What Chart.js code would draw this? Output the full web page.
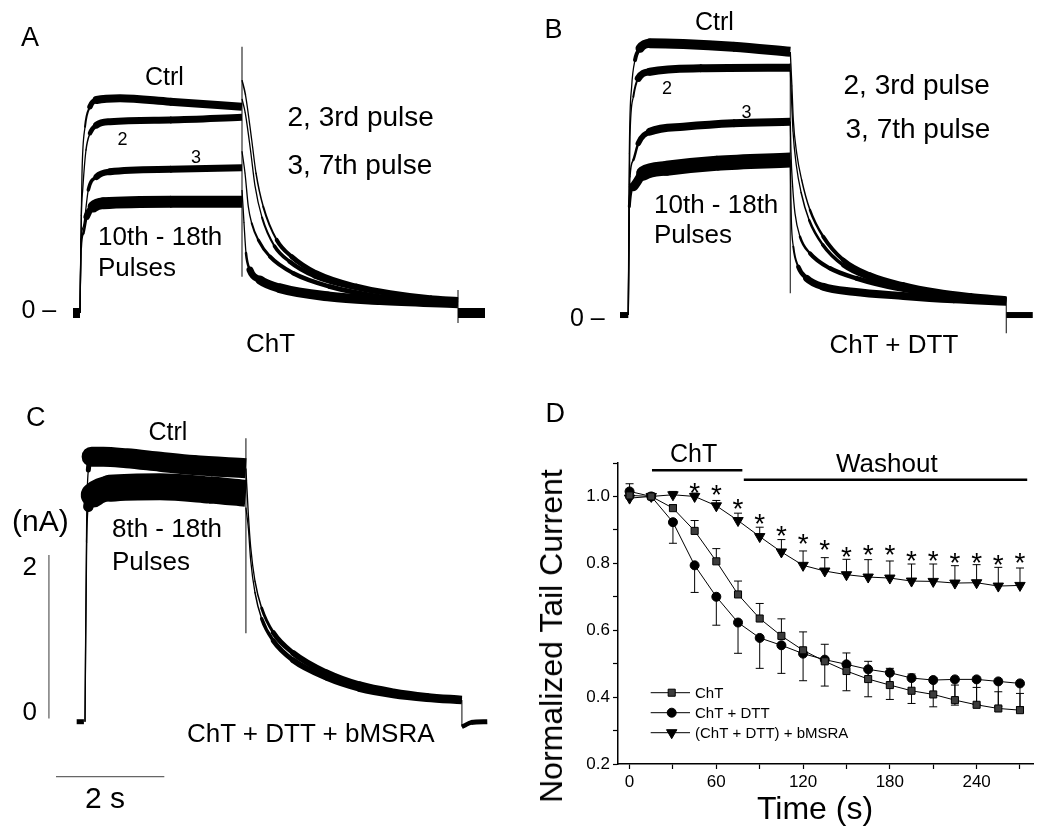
<!DOCTYPE html>
<html><head><meta charset="utf-8">
<script src="https://cdn.jsdelivr.net/npm/chart.js@4.4.1/dist/chart.umd.min.js"></script>
<style>
html,body{margin:0;padding:0;background:#fff;}
#wrap{position:relative;width:1050px;height:840px;overflow:hidden;background:#fff;font-family:"Liberation Sans",Arial,sans-serif;}
canvas{position:absolute;}
.t{position:absolute;white-space:nowrap;line-height:1;color:#000;font-family:"Liberation Sans",Arial,sans-serif;}
</style></head><body>
<div id="wrap">
<canvas id="cA" width="520" height="400" style="left:0;top:0"></canvas>
<canvas id="cB" width="530" height="400" style="left:520px;top:0"></canvas>
<canvas id="cC" width="520" height="440" style="left:0;top:400px"></canvas>
<canvas id="cD" width="530" height="400" style="left:520px;top:440px"></canvas>

<div class="t" style="left:21px;top:23.8px;font-size:27px">A</div>
<div class="t" style="left:145px;top:63.8px;font-size:25px">Ctrl</div>
<div class="t" style="left:117.5px;top:129.8px;font-size:18px">2</div>
<div class="t" style="left:191px;top:148.1px;font-size:18px">3</div>
<div class="t" style="left:287.5px;top:103.3px;font-size:28px">2, 3rd pulse</div>
<div class="t" style="left:287.5px;top:151.3px;font-size:28px">3, 7th pulse</div>
<div class="t" style="left:98px;top:223px;font-size:26px">10th - 18th</div>
<div class="t" style="left:98px;top:254px;font-size:26px">Pulses</div>
<div class="t" style="left:21.5px;top:296.8px;font-size:25px">0 –</div>
<div class="t" style="left:246px;top:329.7px;font-size:26px">ChT</div>

<div class="t" style="left:544.5px;top:16.1px;font-size:27px">B</div>
<div class="t" style="left:695px;top:9.2px;font-size:25px">Ctrl</div>
<div class="t" style="left:662px;top:79.4px;font-size:18px">2</div>
<div class="t" style="left:741.5px;top:103px;font-size:18px">3</div>
<div class="t" style="left:843.5px;top:70.8px;font-size:28px">2, 3rd pulse</div>
<div class="t" style="left:845.5px;top:115.3px;font-size:28px">3, 7th pulse</div>
<div class="t" style="left:654px;top:190.8px;font-size:26px">10th - 18th</div>
<div class="t" style="left:654px;top:221px;font-size:26px">Pulses</div>
<div class="t" style="left:570px;top:304.8px;font-size:25px">0 –</div>
<div class="t" style="left:829.5px;top:331px;font-size:26px">ChT + DTT</div>

<div class="t" style="left:26px;top:403.8px;font-size:27px">C</div>
<div class="t" style="left:148.5px;top:418.8px;font-size:25px">Ctrl</div>
<div class="t" style="left:12px;top:506.3px;font-size:30px">(nA)</div>
<div class="t" style="left:112px;top:514.7px;font-size:26px">8th - 18th</div>
<div class="t" style="left:112px;top:548px;font-size:26px">Pulses</div>
<div class="t" style="left:22.5px;top:553px;font-size:26px">2</div>
<div class="t" style="left:22.5px;top:698px;font-size:26px">0</div>
<div class="t" style="left:187px;top:719.7px;font-size:26px">ChT + DTT + bMSRA</div>
<div class="t" style="left:85px;top:782.9px;font-size:30px">2 s</div>

<div class="t" style="left:545.5px;top:400.4px;font-size:27px">D</div>
<div class="t" style="left:670px;top:440.8px;font-size:25px">ChT</div>
<div class="t" style="left:836px;top:449.7px;font-size:26px">Washout</div>
<div class="t" style="left:551px;top:636px;font-size:32px;transform:translate(-50%,-50%) rotate(-90deg)">Normalized Tail Current</div>
<div class="t" style="left:815px;top:792px;font-size:32px;transform:translateX(-50%)">Time (s)</div>
</div>

<script>
// ---------------- Panel D data (normalized tail current) ----------------
const times = [0,15,30,45,60,75,90,105,120,135,150,165,180,195,210,225,240,255,270];
const chtMean = [1.003,1.0,0.965,0.897,0.806,0.707,0.635,0.583,0.54,0.507,0.478,0.454,0.436,0.419,0.408,0.391,0.377,0.366,0.361];
const chtErr  = [0.035,0.005,0.01,0.031,0.038,0.04,0.045,0.051,0.055,0.051,0.054,0.053,0.05,0.05,0.05,0.045,0.052,0.05,0.05];
const dttMean = [1.015,1.0,0.923,0.794,0.70,0.623,0.577,0.555,0.53,0.512,0.498,0.483,0.473,0.457,0.451,0.453,0.453,0.447,0.441];
const dttErr  = [0.01,0.005,0.063,0.081,0.085,0.092,0.091,0.084,0.081,0.079,0.079,0.082,0.08,0.076,0.08,0.077,0.075,0.075,0.07];
const msraMean = [0.995,1.0,1.005,1.0,0.972,0.928,0.88,0.834,0.794,0.777,0.766,0.759,0.756,0.747,0.746,0.741,0.742,0.732,0.734];
const msraErr  = [0.01,0.005,0.01,0.01,0.016,0.022,0.028,0.037,0.043,0.04,0.046,0.052,0.051,0.051,0.052,0.052,0.054,0.056,0.052];
const starTimes  = [45,60,75,90,105,120,135,150,165,180,195,210,225,240,255,270];
const starLevels = [1.030,1.023,0.983,0.938,0.901,0.877,0.859,0.839,0.844,0.844,0.826,0.826,0.819,0.819,0.813,0.819];
const chtBarT = [15.5, 78];   const chtBarLevel = 1.078;
const washBarT = [79, 275];   const washBarLevel = 1.05;
const xTickValues = [0,30,60,90,120,150,180,210,240,270];
const xLabelValues = [0,60,120,180,240];
const yTickValues = [0.2,0.3,0.4,0.5,0.6,0.7,0.8,0.9,1.0,1.1];
const yLabelValues = [0.2,0.4,0.6,0.8,1.0];
const legendLabels = ['ChT','ChT + DTT','(ChT + DTT) + bMSRA'];

// ---------------- Panel A traces (time s, current nA) ----------------
const aPreT = [-0.13, 0], aPreI = [0, 0];
const aPostT = [7.0, 7.5], aPostI = [0, 0];
const aCtrlPulseT = [0, 0.025, 0.037, 0.093, 0.185, 0.309, 0.741, 1.667, 3.0];
const aCtrlPulseI = [0, 1.2, 1.71, 2.28, 2.525, 2.607, 2.628, 2.586, 2.525];
const aCtrlTailT = [3.0, 3.065, 3.18, 3.26, 3.394, 3.643, 3.92, 4.383, 5.124, 5.741, 6.481, 7.0];
const aCtrlTailI = [2.85, 2.668, 2.117, 1.71, 1.301, 0.894, 0.689, 0.486, 0.322, 0.241, 0.18, 0.159];
const a2PulseT = [0, 0.025, 0.05, 0.111, 0.185, 0.309, 0.556, 1.667, 3.0];
const a2PulseI = [0, 1.2, 1.506, 1.995, 2.2, 2.301, 2.342, 2.362, 2.395];
const a2TailT = [3.0, 3.06, 3.16, 3.24, 3.37, 3.6, 3.88, 4.35, 5.1, 5.74, 6.48, 7.0];
const a2TailI = [2.62, 2.45, 1.98, 1.56, 1.17, 0.82, 0.63, 0.45, 0.31, 0.235, 0.177, 0.157];
const a3PulseT = [0, 0.02, 0.062, 0.154, 0.309, 0.556, 1.667, 3.0];
const a3PulseI = [0, 0.9, 1.056, 1.506, 1.668, 1.729, 1.759, 1.778];
const a3TailT = [3.0, 3.056, 3.117, 3.18, 3.302, 3.519, 3.95, 4.63, 5.556, 6.481, 7.0];
const a3TailI = [1.98, 1.71, 1.301, 1.098, 0.894, 0.689, 0.486, 0.322, 0.2, 0.138, 0.119];
const aBandPulseT = [0, 0.02, 0.062, 0.124, 0.247, 0.432, 1.667, 3.0];
const aBandPulseI = [0, 0.8, 0.976, 1.179, 1.301, 1.343, 1.362, 1.362];
const aBandTailT = [3.0, 3.037, 3.074, 3.148, 3.333, 3.704, 4.63, 5.556, 7.0];
const aBandTailI = [1.506, 1.102, 0.734, 0.526, 0.404, 0.302, 0.2, 0.159, 0.119];
const aSpikeT = [3.0, 3.0], aSpikeI = [3.26, 0.444];
const aEndT = [7.0, 7.0], aEndI = [0.28, -0.122];

// ---------------- Panel B traces ----------------
const bPreT = [-0.154, 0], bPreI = [0, 0];
const bPostT = [7.0, 7.49], bPostI = [0, 0];
const bCtrlPulseT = [0, 0.019, 0.062, 0.124, 0.217, 0.401, 1.019, 1.944, 3.0];
const bCtrlPulseI = [0, 1.979, 2.794, 3.121, 3.264, 3.326, 3.317, 3.284, 3.223];
const bCtrlTailT = [3.0, 3.03, 3.056, 3.119, 3.211, 3.365, 3.611, 3.981, 4.476, 5.093, 5.711, 6.328, 7.0];
const bCtrlTailI = [3.22, 2.8, 2.387, 1.979, 1.652, 1.285, 0.958, 0.673, 0.49, 0.367, 0.285, 0.233, 0.192];
const b2PulseT = [0, 0.019, 0.031, 0.093, 0.185, 0.401, 1.327, 3.0];
const b2PulseI = [0, 1.6, 2.182, 2.672, 2.897, 2.978, 3.02, 3.027];
const b2TailT = [3.0, 3.05, 3.11, 3.2, 3.35, 3.6, 3.98, 4.48, 5.09, 5.71, 6.33, 7.0];
const b2TailI = [3.0, 2.25, 1.84, 1.5, 1.16, 0.86, 0.61, 0.45, 0.34, 0.27, 0.22, 0.185];
const b3PulseT = [0, 0.019, 0.031, 0.093, 0.185, 0.401, 1.019, 1.944, 3.0];
const b3PulseI = [0, 1.3, 1.693, 1.897, 2.102, 2.244, 2.305, 2.346, 2.366];
const b3TailT = [3.0, 3.013, 3.044, 3.087, 3.18, 3.365, 3.735, 4.229, 4.97, 5.833, 7.0];
const b3TailI = [2.37, 1.979, 1.57, 1.245, 0.958, 0.755, 0.572, 0.449, 0.327, 0.245, 0.184];
const bBandPulseT = [0, 0.019, 0.093, 0.278, 0.711, 1.637, 3.0];
const bBandPulseI = [0, 1.326, 1.57, 1.734, 1.796, 1.857, 1.897];
const bBandTailT = [3.0, 3.007, 3.019, 3.056, 3.148, 3.304, 3.611, 4.167, 5.093, 6.019, 7.0];
const bBandTailI = [1.9, 1.57, 1.163, 0.836, 0.591, 0.449, 0.346, 0.285, 0.233, 0.192, 0.163];
const bSpikeT = [3.0, 3.0], bSpikeI = [3.081, 0.266];
const bEndT = [7.0, 7.0], bEndI = [0.224, -0.224];

// ---------------- Panel C traces ----------------
const cPreT = [-0.154, -0.02], cPreI = [0, 0];
const cPostT = [6.98, 7.02, 7.15, 7.45], cPostI = [-0.06, -0.05, -0.01, 0];
const cCtrlPulseT = [0, 0.031, 0.062, 0.123, 0.339, 0.772, 1.389, 2.006, 2.98];
const cCtrlPulseI = [0, 2.469, 3.081, 3.244, 3.244, 3.224, 3.182, 3.142, 3.102];
const cCtrlTailT = [2.98, 3.024, 3.068, 3.148, 3.272, 3.488, 3.858, 4.476, 5.093, 5.709, 6.328, 6.98];
const cCtrlTailI = [3.1, 2.55, 2.14, 1.72, 1.39, 1.09, 0.84, 0.6, 0.45, 0.365, 0.31, 0.275];
const cBandPulseT = [0, 0.031, 0.062, 0.154, 0.463, 1.389, 2.315, 2.98];
const cBandPulseI = [0, 2.2, 2.632, 2.775, 2.857, 2.876, 2.836, 2.796];
const cBandTailT = [2.98, 3.024, 3.068, 3.148, 3.272, 3.488, 3.858, 4.476, 5.093, 5.709, 6.328, 6.98];
const cBandTailI = [2.62, 2.38, 1.98, 1.58, 1.26, 0.99, 0.75, 0.54, 0.405, 0.33, 0.285, 0.255];
const cSpikeT = [2.98, 2.98], cSpikeI = [3.469, 1.082];
const cEndT = [6.98, 6.98], cEndI = [0.266, -0.061];
const cNaBarT = [-0.668, -0.668], cNaBarI = [0.04, 2.04];     // 2 nA scale bar
const cSecBarT = [-0.537, 1.469], cSecBarI = [-0.673, -0.673]; // 2 s scale bar

// ---------------- helpers ----------------
Chart.defaults.font.family = '"Liberation Sans", Arial, sans-serif';
Chart.defaults.color = '#000';
const pts = (xs, ys) => xs.map((x, i) => ({x, y: ys[i]}));

function bandWidth(noise) {
  return ctx => {
    const dx = ctx.p1.x - ctx.p0.x, dy = ctx.p1.y - ctx.p0.y;
    const len = Math.hypot(dx, dy) || 1;
    return Math.max(1.3, Math.round(noise * Math.abs(dx) / len * 2) / 2);
  };
}
function traceSet(t, i, noise, color) {
  const n = t.length;
  return {
    data: pts(t, i), borderColor: color || '#000', backgroundColor: color || '#000',
    pointRadius: 0, borderWidth: noise, fill: false,
    cubicInterpolationMode: 'monotone', borderJoinStyle: 'round', borderCapStyle: 'butt',
    segment: {
      borderWidth: bandWidth(noise),
      borderCapStyle: ctx => (ctx.p0DataIndex === 0 || ctx.p1DataIndex === n - 1) ? 'butt' : 'round'
    }
  };
}
function thinSet(t, i, w, color) {
  return { data: pts(t, i), borderColor: color || '#000', pointRadius: 0, borderWidth: w, fill: false, tension: 0 };
}
function traceChart(id, xr, yr, datasets) {
  return new Chart(document.getElementById(id), {
    type: 'line',
    data: { datasets },
    options: {
      responsive: false, animation: false, devicePixelRatio: 1, events: [],
      layout: { padding: 0 },
      plugins: { legend: { display: false }, tooltip: { enabled: false } },
      scales: {
        x: { type: 'linear', min: xr[0], max: xr[1], display: false },
        y: { type: 'linear', min: yr[0], max: yr[1], display: false }
      }
    }
  });
}

// Panel A
traceChart('cA', [-1.4815, 8.1481], [-1.065, 3.831], [
  traceSet(aPreT, aPreI, 10), traceSet(aPostT, aPostI, 10),
  traceSet(aCtrlPulseT, aCtrlPulseI, 8), traceSet(aCtrlTailT, aCtrlTailI, 6),
  traceSet(a2PulseT, a2PulseI, 7), traceSet(a2TailT, a2TailI, 5),
  traceSet(a3PulseT, a3PulseI, 7), traceSet(a3TailT, a3TailI, 5),
  traceSet(aBandPulseT, aBandPulseI, 12), traceSet(aBandTailT, aBandTailI, 10),
  thinSet(aSpikeT, aSpikeI, 1.2, '#333'), thinSet(aEndT, aEndI, 1.2, '#333')
]);
// Panel B
traceChart('cB', [-2.0056, 7.8093], [-1.040, 3.856], [
  traceSet(bPreT, bPreI, 6), traceSet(bPostT, bPostI, 6),
  traceSet(bCtrlPulseT, bCtrlPulseI, 10), traceSet(bCtrlTailT, bCtrlTailI, 6),
  traceSet(b2PulseT, b2PulseI, 8), traceSet(b2TailT, b2TailI, 5),
  traceSet(b3PulseT, b3PulseI, 8), traceSet(b3TailT, b3TailI, 5),
  traceSet(bBandPulseT, bBandPulseI, 15), traceSet(bBandTailT, bBandTailI, 8),
  thinSet(bSpikeT, bSpikeI, 1.2, '#333'), thinSet(bEndT, bEndI, 1.2, '#333')
]);
// Panel C
traceChart('cC', [-1.574, 8.056], [-1.448, 3.938], [
  traceSet(cPreT, cPreI, 5), traceSet(cPostT, cPostI, 5),
  traceSet(cCtrlPulseT, cCtrlPulseI, 20), traceSet(cCtrlTailT, cCtrlTailI, 7),
  traceSet(cBandPulseT, cBandPulseI, 27), traceSet(cBandTailT, cBandTailI, 7),
  thinSet(cSpikeT, cSpikeI, 1.2, '#333'), thinSet(cEndT, cEndI, 1.2, '#333'),
  thinSet(cNaBarT, cNaBarI, 1.3, '#666'), thinSet(cSecBarT, cSecBarI, 1.3, '#666')
]);

// ---------------- Panel D ----------------
function drawMarker(ctx, style, x, y, r) {
  ctx.save();
  ctx.fillStyle = style === 'rect' ? '#3c3c3c' : '#000';
  ctx.strokeStyle = '#000'; ctx.lineWidth = 1;
  ctx.beginPath();
  if (style === 'rect') { const s = r * Math.SQRT1_2; ctx.rect(x - s, y - s, 2 * s, 2 * s); }
  else if (style === 'circle') { ctx.arc(x, y, r, 0, Math.PI * 2); }
  else { ctx.moveTo(x, y + r); ctx.lineTo(x - r * 0.866, y - r / 2); ctx.lineTo(x + r * 0.866, y - r / 2); ctx.closePath(); }
  ctx.fill(); ctx.stroke(); ctx.restore();
}
const errorSeries = [
  { mean: chtMean, err: chtErr, dir: 1 },
  { mean: dttMean, err: dttErr, dir: -1 },
  { mean: msraMean, err: msraErr, dir: 1 }
];
const errorBarsPlugin = {
  id: 'errorBars',
  beforeDatasetsDraw(chart) {
    const { ctx, scales: { x, y } } = chart;
    ctx.save(); ctx.strokeStyle = '#000'; ctx.lineWidth = 1;
    errorSeries.forEach(s => {
      times.forEach((t, i) => {
        const px = x.getPixelForValue(t);
        const p0 = y.getPixelForValue(s.mean[i]);
        const p1 = y.getPixelForValue(s.mean[i] + s.dir * s.err[i]);
        ctx.beginPath();
        ctx.moveTo(px, p0); ctx.lineTo(px, p1);
        ctx.moveTo(px - 4, p1); ctx.lineTo(px + 4, p1);
        ctx.stroke();
      });
    });
    ctx.restore();
  }
};
const starsPlugin = {
  id: 'stars',
  afterDatasetsDraw(chart) {
    const { ctx, scales: { x, y } } = chart;
    ctx.save(); ctx.fillStyle = '#000';
    ctx.font = '28px "Liberation Sans", Arial, sans-serif';
    ctx.textAlign = 'center'; ctx.textBaseline = 'alphabetic';
    starTimes.forEach((t, i) => {
      ctx.fillText('*', x.getPixelForValue(t), y.getPixelForValue(starLevels[i]) + 15.5);
    });
    ctx.restore();
  }
};
const legendPlugin = {
  id: 'legendBox',
  afterDraw(chart) {
    const { ctx } = chart;
    const styles = ['rect', 'circle', 'triangle'];
    const radii = [5, 4.5, 6];
    ctx.save();
    ctx.font = '15px "Liberation Sans", Arial, sans-serif';
    ctx.textBaseline = 'alphabetic'; ctx.textAlign = 'left';
    legendLabels.forEach((lab, k) => {
      const yy = 252.7 + k * 20;
      ctx.strokeStyle = '#000'; ctx.lineWidth = 1;
      ctx.beginPath(); ctx.moveTo(130.7, yy); ctx.lineTo(170, yy); ctx.stroke();
      drawMarker(ctx, styles[k], 151.7, yy, radii[k]);
      ctx.fillStyle = '#000';
      ctx.fillText(lab, 175, yy + 5.4);
    });
    ctx.restore();
  }
};

new Chart(document.getElementById('cD'), {
  type: 'line',
  data: {
    datasets: [
      { label: legendLabels[0], data: pts(times, chtMean), borderColor: '#000', borderWidth: 1,
        pointStyle: 'rect', pointRadius: 5, pointBackgroundColor: '#3c3c3c', pointBorderColor: '#000', pointBorderWidth: 1 },
      { label: legendLabels[1], data: pts(times, dttMean), borderColor: '#000', borderWidth: 1,
        pointStyle: 'circle', pointRadius: 4.5, pointBackgroundColor: '#000', pointBorderColor: '#000', pointBorderWidth: 1 },
      { label: legendLabels[2], data: pts(times, msraMean), borderColor: '#000', borderWidth: 1,
        pointStyle: 'triangle', pointRotation: 180, pointRadius: 6, pointBackgroundColor: '#000', pointBorderColor: '#000', pointBorderWidth: 1 },
      { label: 'ChT application', data: chtBarT.map(t => ({ x: t, y: chtBarLevel })), borderColor: '#000', borderWidth: 2.5, pointRadius: 0 },
      { label: 'Washout', data: washBarT.map(t => ({ x: t, y: washBarLevel })), borderColor: '#000', borderWidth: 2.5, pointRadius: 0 }
    ]
  },
  options: {
    responsive: false, animation: false, devicePixelRatio: 1, events: [],
    layout: { padding: { left: 0, right: 17, top: 23, bottom: 10 } },
    plugins: { legend: { display: false }, tooltip: { enabled: false } },
    scales: {
      x: {
        type: 'linear', min: -8, max: 279,
        afterBuildTicks: s => { s.ticks = xTickValues.map(v => ({ value: v })); },
        afterFit: s => { s.height = 66; },
        ticks: { autoSkip: false, maxRotation: 0, padding: 3, color: '#000', font: { size: 17 },
                 callback: v => xLabelValues.includes(v) ? String(v) : '' },
        grid: { drawOnChartArea: false, drawTicks: true, tickLength: 5, tickColor: '#000', tickWidth: 1.2 },
        border: { display: true, color: '#000', width: 1.5 },
        title: { display: false }
      },
      y: {
        type: 'linear', min: 0.2, max: 1.1,
        afterBuildTicks: s => { s.ticks = yTickValues.map(v => ({ value: v })); },
        afterFit: s => { s.width = 98; },
        ticks: { autoSkip: false, padding: 3, color: '#000', font: { size: 17 },
                 callback: v => yLabelValues.includes(v) ? v.toFixed(1) : '' },
        grid: { drawOnChartArea: false, drawTicks: true, tickLength: 5, tickColor: '#000', tickWidth: 1.2 },
        border: { display: true, color: '#000', width: 1.5 },
        title: { display: false }
      }
    }
  },
  plugins: [errorBarsPlugin, starsPlugin, legendPlugin]
});
</script>
</body></html>
